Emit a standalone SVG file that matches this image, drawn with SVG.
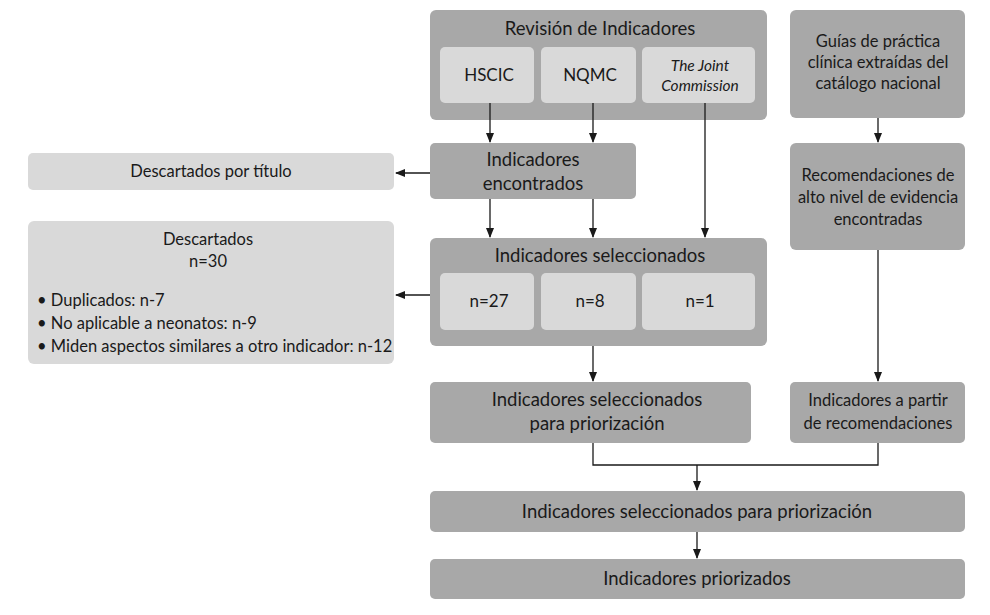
<svg xmlns="http://www.w3.org/2000/svg" width="990" height="615" viewBox="0 0 990 615">
<defs>
<marker id="ah" markerWidth="10" markerHeight="10" refX="9" refY="5" orient="auto" markerUnits="userSpaceOnUse">
<path d="M0,1 L10,5 L0,9 Z" fill="#1a1a1a"/>
</marker>
<style>
.d{fill:#a8a8a8}
.l{fill:#d9d9d9}
text{font-family:Lato,"Open Sans",sans-serif;fill:#1a1a1a;text-anchor:middle}
.t{font-size:18.5px}
.s{font-size:16.5px}
.m{font-size:17px}
.c{fill:none;stroke:#1a1a1a;stroke-width:1.3}
</style>
</defs>
<rect width="990" height="615" fill="#ffffff"/>
<g id="revision">
<rect class="d" x="430" y="10" width="337" height="110" rx="6"/>
<text class="t" x="600" y="35">Revisión de Indicadores</text>
</g>
<g id="hscic">
<rect class="l" x="440" y="47" width="94" height="56" rx="5"/>
<text class="m" x="489" y="81">HSCIC</text>
</g>
<g id="nqmc">
<rect class="l" x="541" y="47" width="95" height="56" rx="5"/>
<text class="m" x="590" y="81">NQMC</text>
</g>
<g id="joint">
<rect class="l" x="642" y="47" width="113" height="56" rx="5"/>
<text x="700" y="71" font-style="italic" style="font-size:15.5px">The Joint</text>
<text x="700" y="91" font-style="italic" style="font-size:15.5px">Commission</text>
</g>
<g id="guias">
<rect class="d" x="790" y="10" width="175" height="108" rx="6"/>
<text class="s" x="878" y="47">Guías de práctica</text>
<text class="s" x="878" y="68">clínica extraídas del</text>
<text class="s" x="878" y="89">catálogo nacional</text>
</g>
<g id="encontrados">
<rect class="d" x="430" y="143" width="206" height="56" rx="5"/>
<text class="t" x="533" y="166">Indicadores</text>
<text class="t" x="533" y="190">encontrados</text>
</g>
<g id="desc-titulo">
<rect class="l" x="28" y="153" width="366" height="37" rx="5"/>
<text class="s" x="211" y="177">Descartados por título</text>
</g>
<g id="recomendaciones">
<rect class="d" x="790" y="143" width="175" height="107" rx="6"/>
<text class="s" x="878" y="181">Recomendaciones de</text>
<text class="s" x="878" y="203">alto nivel de evidencia</text>
<text class="s" x="878" y="225">encontradas</text>
</g>
<g id="descartados">
<rect class="l" x="28" y="221" width="366" height="143" rx="6"/>
<text class="s" x="208" y="245">Descartados</text>
<text class="s" x="208" y="267">n=30</text>
<text class="s" x="37" y="306" style="text-anchor:start">• Duplicados: n-7</text>
<text class="s" x="37" y="329" style="text-anchor:start">• No aplicable a neonatos: n-9</text>
<text class="s" x="37" y="352" style="text-anchor:start">• Miden aspectos similares a otro indicador: n-12</text>
</g>
<g id="seleccionados">
<rect class="d" x="430" y="238" width="337" height="108" rx="6"/>
<text class="t" x="600" y="262">Indicadores seleccionados</text>
</g>
<g id="n27">
<rect class="l" x="440" y="273" width="94" height="57" rx="5"/>
<text class="m" x="489" y="307">n=27</text>
</g>
<g id="n8">
<rect class="l" x="541" y="273" width="95" height="57" rx="5"/>
<text class="m" x="590" y="307">n=8</text>
</g>
<g id="n1">
<rect class="l" x="642" y="273" width="113" height="57" rx="5"/>
<text class="m" x="700" y="307">n=1</text>
</g>
<g id="sel-prior">
<rect class="d" x="430" y="382" width="321" height="61" rx="5"/>
<text class="t" x="597" y="406">Indicadores seleccionados</text>
<text class="t" x="597" y="430">para priorización</text>
</g>
<g id="a-partir">
<rect class="d" x="790" y="382" width="175" height="61" rx="5"/>
<text class="s" x="878" y="406">Indicadores a partir</text>
<text class="s" x="878" y="429">de recomendaciones</text>
</g>
<g id="sel-prior-2">
<rect class="d" x="430" y="491" width="535" height="41" rx="5"/>
<text class="t" x="697" y="518">Indicadores seleccionados para priorización</text>
</g>
<g id="priorizados">
<rect class="d" x="430" y="559" width="535" height="40" rx="5"/>
<text class="t" x="697" y="585">Indicadores priorizados</text>
</g>
<g id="connectors">
<line class="c" x1="490" y1="103" x2="490" y2="142" marker-end="url(#ah)"/>
<line class="c" x1="593" y1="103" x2="593" y2="142" marker-end="url(#ah)"/>
<line class="c" x1="705" y1="103" x2="705" y2="237" marker-end="url(#ah)"/>
<line class="c" x1="430" y1="173" x2="396" y2="173" marker-end="url(#ah)"/>
<line class="c" x1="490" y1="199" x2="490" y2="237" marker-end="url(#ah)"/>
<line class="c" x1="593" y1="199" x2="593" y2="237" marker-end="url(#ah)"/>
<line class="c" x1="430" y1="295" x2="396" y2="295" marker-end="url(#ah)"/>
<line class="c" x1="593" y1="346" x2="593" y2="381" marker-end="url(#ah)"/>
<line class="c" x1="878" y1="118" x2="878" y2="142" marker-end="url(#ah)"/>
<line class="c" x1="878" y1="250" x2="878" y2="381" marker-end="url(#ah)"/>
<polyline class="c" points="593,443 593,465 878,465 878,443"/>
<line class="c" x1="697" y1="465" x2="697" y2="490" marker-end="url(#ah)"/>
<line class="c" x1="697" y1="532" x2="697" y2="558" marker-end="url(#ah)"/>
</g>
</svg>
